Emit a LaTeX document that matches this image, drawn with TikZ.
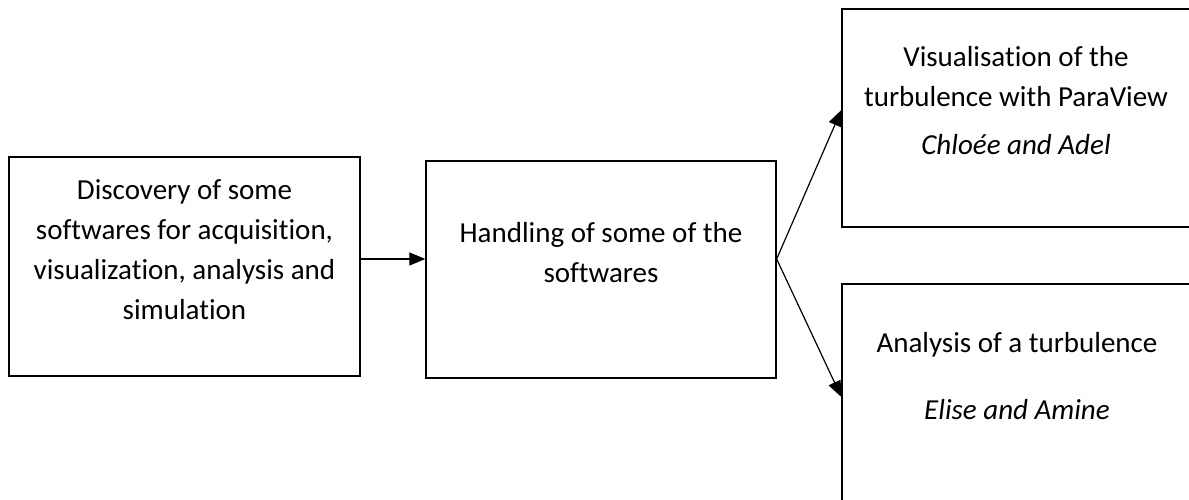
\documentclass[tikz,border=0pt]{standalone}
\usepackage{fontspec}
\setmainfont[Ligatures=NoCommon]{Carlito}
\usetikzlibrary{arrows.meta}
\begin{document}
\begin{tikzpicture}[x=1pt,y=1pt,
  box/.style={draw, line width=1.3pt, inner sep=0pt},
  txt/.style={align=center, inner sep=0pt, font=\fontsize{29}{40}\selectfont},
  arr/.style={line width=1.2pt, -{Triangle[length=16pt,width=13pt]}}]
\useasboundingbox (0,0) rectangle (1189,500);
\clip (0,0) rectangle (1189,500);
\node[box, minimum width=351pt, minimum height=219pt] (b1) at (184.5,233.5) {};
\node[box, minimum width=350pt, minimum height=217pt] (b2) at (601,230.5) {};
\node[box, minimum width=350pt, minimum height=218pt] (b3) at (1017,382) {};
\node[box, minimum width=350pt, minimum height=230pt] (b4) at (1017,101) {};
\node[txt, anchor=base] (t1) at (184.5,180) {Discovery of some\\softwares for acquisition,\\visualization, analysis and\\simulation};
\node[txt, anchor=base] (t2) at (601,217) {Handling of some of the\\softwares};
\node[txt, anchor=base] (t3) at (1016,345) {Visualisation of the\\turbulence with ParaView\\[8pt]\textit{Chloée and Adel}};
\node[txt, anchor=base] (t4) at (1017,80) {Analysis of a turbulence\\[27pt]\textit{Elise and Amine}};
\coordinate (fork) at ([yshift=10.5pt]b2.east);
\draw[arr] ([yshift=7.5pt]b1.east) -- ([yshift=7.5pt]b1.east -| b2.west);
\draw[arr] (fork) -- ([yshift=8pt]b3.west);
\draw[arr] (fork) -- ([yshift=2pt]b4.west);
\end{tikzpicture}
\end{document}
